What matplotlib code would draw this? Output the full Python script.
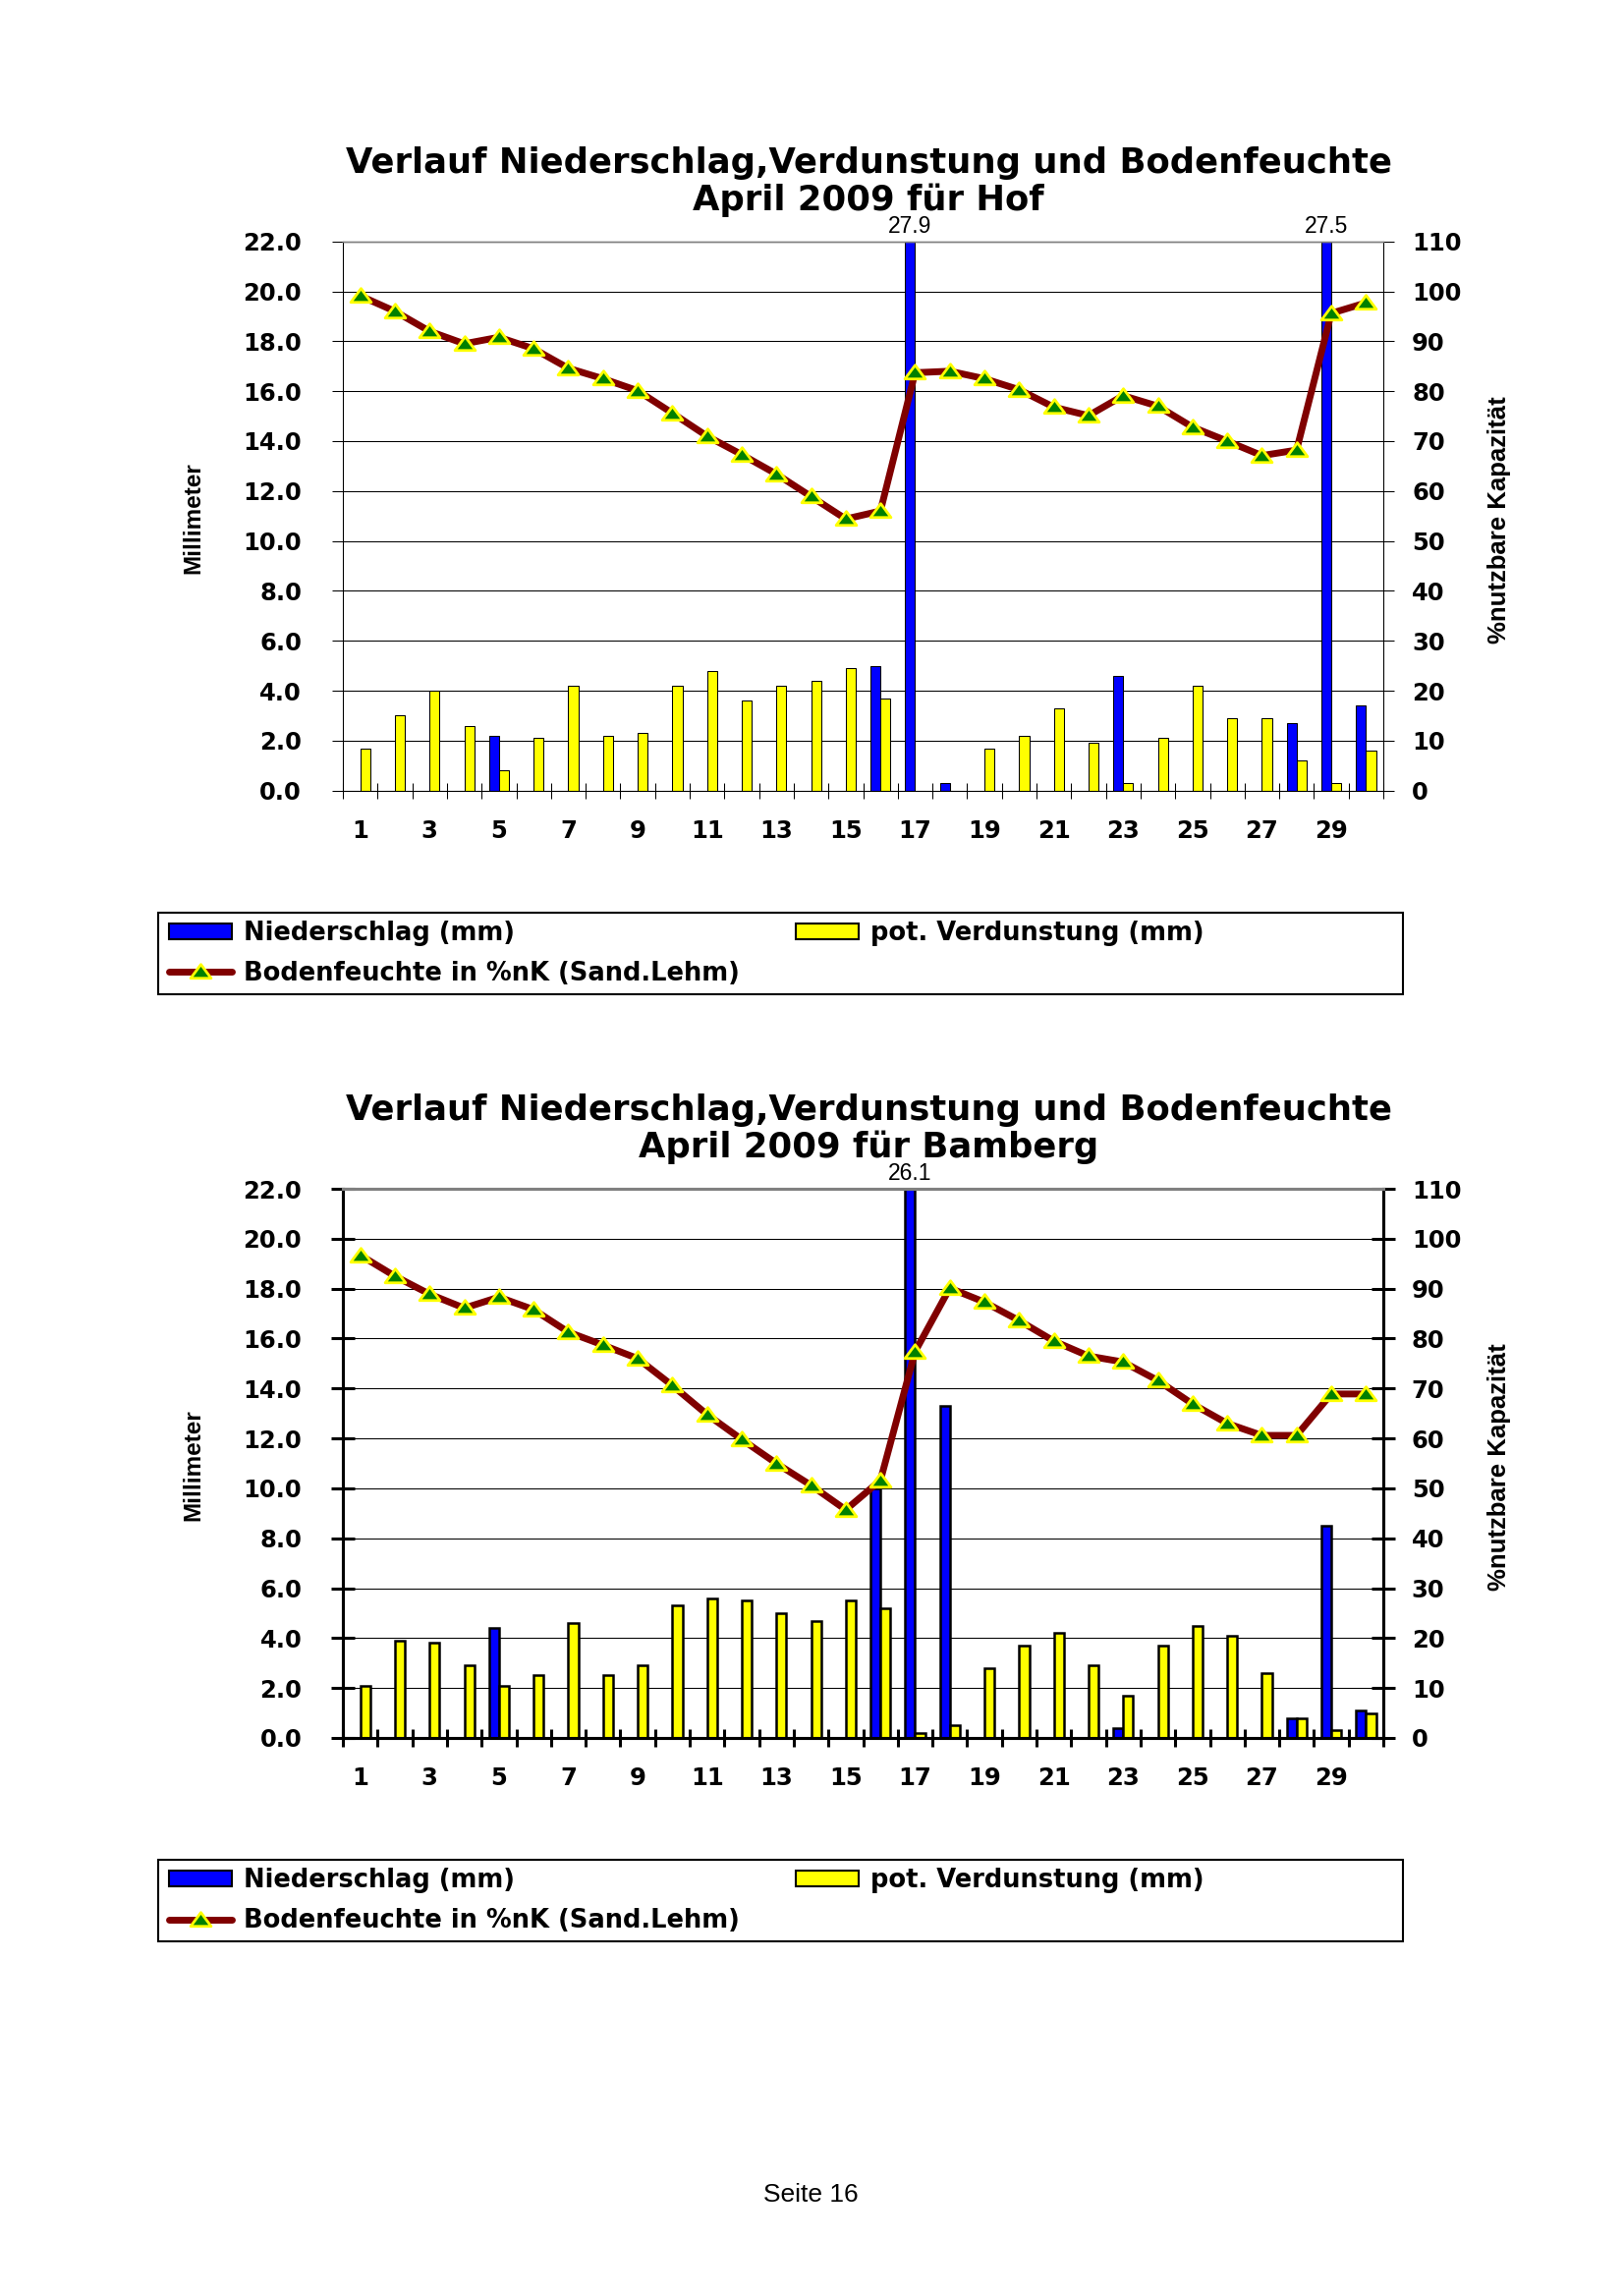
import numpy as np
import matplotlib
matplotlib.use("Agg")
import matplotlib.pyplot as plt
from matplotlib.patches import Patch, Rectangle
from matplotlib.lines import Line2D
from matplotlib.path import Path
from matplotlib.ticker import FixedLocator, FormatStrFormatter

# ---- data ----
DAYS = list(range(1, 31))

hof_niederschlag = [0.0, 0.0, 0.0, 0.0, 2.2, 0.0, 0.0, 0.0, 0.0, 0.0,
                    0.0, 0.0, 0.0, 0.0, 0.0, 5.0, 27.9, 0.3, 0.0, 0.0,
                    0.0, 0.0, 4.6, 0.0, 0.0, 0.0, 0.0, 2.7, 27.5, 3.4]
hof_verdunstung = [1.7, 3.0, 4.0, 2.6, 0.8, 2.1, 4.2, 2.2, 2.3, 4.2,
                   4.8, 3.6, 4.2, 4.4, 4.9, 3.7, 0.0, 0.0, 1.7, 2.2,
                   3.3, 1.9, 0.3, 2.1, 4.2, 2.9, 2.9, 1.2, 0.3, 1.6]
hof_bodenfeuchte = [99.1, 96.0, 92.0, 89.5, 90.8, 88.5, 84.6, 82.5, 80.1, 75.6,
                    71.0, 67.3, 63.4, 58.9, 54.4, 56.0, 83.7, 84.0, 82.5, 80.3,
                    76.8, 75.1, 79.1, 77.0, 72.8, 70.0, 67.1, 68.2, 95.6, 97.7]

bam_niederschlag = [0.0, 0.0, 0.0, 0.0, 4.4, 0.0, 0.0, 0.0, 0.0, 0.0,
                    0.0, 0.0, 0.0, 0.0, 0.0, 10.0, 26.1, 13.3, 0.0, 0.0,
                    0.0, 0.0, 0.4, 0.0, 0.0, 0.0, 0.0, 0.8, 8.5, 1.1]
bam_verdunstung = [2.1, 3.9, 3.8, 2.9, 2.1, 2.5, 4.6, 2.5, 2.9, 5.3,
                   5.6, 5.5, 5.0, 4.7, 5.5, 5.2, 0.2, 0.5, 2.8, 3.7,
                   4.2, 2.9, 1.7, 3.7, 4.5, 4.1, 2.6, 0.8, 0.3, 1.0]
bam_bodenfeuchte = [96.7, 92.5, 88.9, 86.1, 88.3, 85.8, 81.3, 78.7, 76.0, 70.6,
                    64.8, 59.8, 55.0, 50.6, 45.7, 51.6, 77.4, 90.1, 87.3, 83.6,
                    79.5, 76.5, 75.3, 71.6, 66.9, 63.0, 60.6, 60.6, 68.9, 68.9]

TITLE = "Verlauf Niederschlag,Verdunstung und Bodenfeuchte"
LBL_N = "Niederschlag (mm)"
LBL_V = "pot. Verdunstung (mm)"
LBL_B = "Bodenfeuchte in %nK (Sand.Lehm)"

# ---- page geometry (pixels of the 1653x2337 page) ----
W, H = 1653, 2337
AX_L, AX_R, AX_H = 349, 1408, 559

BLUE, YELLOW, DARKRED, GREEN = "#0000FF", "#FFFF00", "#800000", "#008000"
NARROW = ["Liberation Sans Narrow", "Liberation Sans", "DejaVu Sans"]
BOLD = {"family": "DejaVu Sans", "weight": "bold"}

# flat triangle like the Excel marker
TRI = Path([(-1, -0.6), (1, -0.6), (0, 0.75), (-1, -0.6)], closed=True)


def fx(px):
    return px / W


def fy(py):
    return 1 - py / H


def draw_chart(fig, top, station, nieder, verd, boden, heavy):
    """One Excel-style combo chart; top = y pixel of the 22.0 line."""
    dy = top - 245.7
    ax = fig.add_axes([fx(AX_L), fy(top + AX_H), (AX_R - AX_L) / W, AX_H / H])
    ax2 = ax.twinx()

    lw = 2.2 if heavy else 0.75
    edge = 1.8 if heavy else 0.75
    bw = 0.29
    x = np.array(DAYS)

    ax.bar(x - bw / 2, nieder, bw, color=BLUE, edgecolor="black", linewidth=edge)
    ax.bar(x + bw / 2, verd, bw, color=YELLOW, edgecolor="black", linewidth=edge)

    ax.set_xlim(0.5, 30.5)
    ax.set_ylim(0, 22)
    ax2.set_ylim(0, 110)

    # values beyond the scale are written on top, like in Excel
    for d, v in zip(DAYS, nieder):
        if v > 22:
            ax.annotate(f"{v:.1f}", xy=(d - bw / 2, 22), xytext=(0, 6.3),
                        textcoords="offset points", ha="center", va="baseline",
                        fontsize=16.5, family="Liberation Sans",
                        annotation_clip=False)

    ax2.plot(DAYS, boden, color=DARKRED, lw=5, solid_joinstyle="round",
             solid_capstyle="round", marker=TRI, ms=15, mfc=GREEN,
             mec=YELLOW, mew=2, zorder=3)

    # grid + ticks
    ax.set_axisbelow(True)
    ax.set_yticks(np.arange(0, 22.01, 2))
    ax.yaxis.set_major_formatter(FormatStrFormatter("%.1f"))
    ax.yaxis.grid(True, color="black", lw=0.75)
    ax2.set_yticks(np.arange(0, 111, 10))

    ax.xaxis.set_major_locator(FixedLocator(DAYS[::2]))
    ax.set_xticklabels([str(d) for d in DAYS[::2]])
    ax.xaxis.set_minor_locator(FixedLocator(np.arange(0.5, 31, 1)))

    if heavy:
        ax.tick_params(axis="y", direction="inout", length=17, width=lw, pad=21.6)
        ax2.tick_params(axis="y", direction="inout", length=17, width=lw, pad=12.2)
        ax.tick_params(axis="x", which="minor", direction="inout", length=13, width=lw)
    else:
        ax.tick_params(axis="y", direction="out", length=8, width=lw, pad=22.3)
        ax2.tick_params(axis="y", direction="out", length=8, width=lw, pad=13)
        ax.tick_params(axis="x", which="minor", direction="inout", length=11.5, width=lw)
    ax.tick_params(axis="x", which="major", length=0, pad=21.2)

    for a in (ax, ax2):
        for s in a.spines.values():
            s.set_linewidth(lw)
            s.set_color("black")
        a.spines["top"].set_color("#808080")
        a.spines["top"].set_linewidth(lw if heavy else 1.0)
        for lab in a.get_yticklabels() + a.get_xticklabels():
            lab.set_fontsize(17.5)
            lab.set_fontweight("bold")
            lab.set_family("DejaVu Sans")

    # titles
    fig.text(fx(884), fy(176 + dy), TITLE, ha="center", va="baseline",
             fontsize=25.5, **BOLD)
    fig.text(fx(884), fy(214 + dy), f"April 2009 für {station}", ha="center",
             va="baseline", fontsize=25.5, **BOLD)

    # axis titles
    fig.text(fx(197), fy(527 + dy), "Millimeter", rotation=90, ha="center",
             va="center", fontsize=17.5, weight="bold", family=NARROW)
    fig.text(fx(1526), fy(529 + dy), "%nutzbare Kapazität", rotation=90,
             ha="center", va="center", fontsize=18.5, weight="bold", family=NARROW)

    # legend box + entries
    fig.add_artist(Rectangle((fx(161), fy(1011.7 + dy)), (1428 - 161) / W,
                             (1011.7 - 928.7) / H, transform=fig.transFigure,
                             fill=False, edgecolor="black", lw=1.5))
    h_n = Patch(facecolor=BLUE, edgecolor="black", lw=1.5, label=LBL_N)
    h_v = Patch(facecolor=YELLOW, edgecolor="black", lw=1.5, label=LBL_V)
    h_b = Line2D([], [], color=DARKRED, lw=5, solid_capstyle="round",
                 marker=TRI, ms=15, mfc=GREEN, mec=YELLOW, mew=2, label=LBL_B)
    common = dict(loc="upper left", frameon=False, borderpad=0, borderaxespad=0,
                  handlelength=2.5, handleheight=0.58, handletextpad=0.47,
                  labelspacing=0.58, prop=dict(size=18.5, **BOLD))
    fig.legend(handles=[h_n, h_b], bbox_to_anchor=(fx(172), fy(937 + dy)), **common)
    fig.legend(handles=[h_v], bbox_to_anchor=(fx(810), fy(937 + dy)), **common)


def main():
    fig = plt.figure(figsize=(W / 100, H / 100), dpi=100)
    fig.patch.set_facecolor("white")

    draw_chart(fig, 245.7, "Hof", hof_niederschlag, hof_verdunstung,
               hof_bodenfeuchte, heavy=False)
    draw_chart(fig, 1210.0, "Bamberg", bam_niederschlag, bam_verdunstung,
               bam_bodenfeuchte, heavy=True)

    fig.text(fx(825), fy(2240.7), "Seite 16", ha="center", va="baseline",
             fontsize=19, family="Liberation Sans")

    fig.savefig("out.png", dpi=100)


if __name__ == "__main__":
    main()
